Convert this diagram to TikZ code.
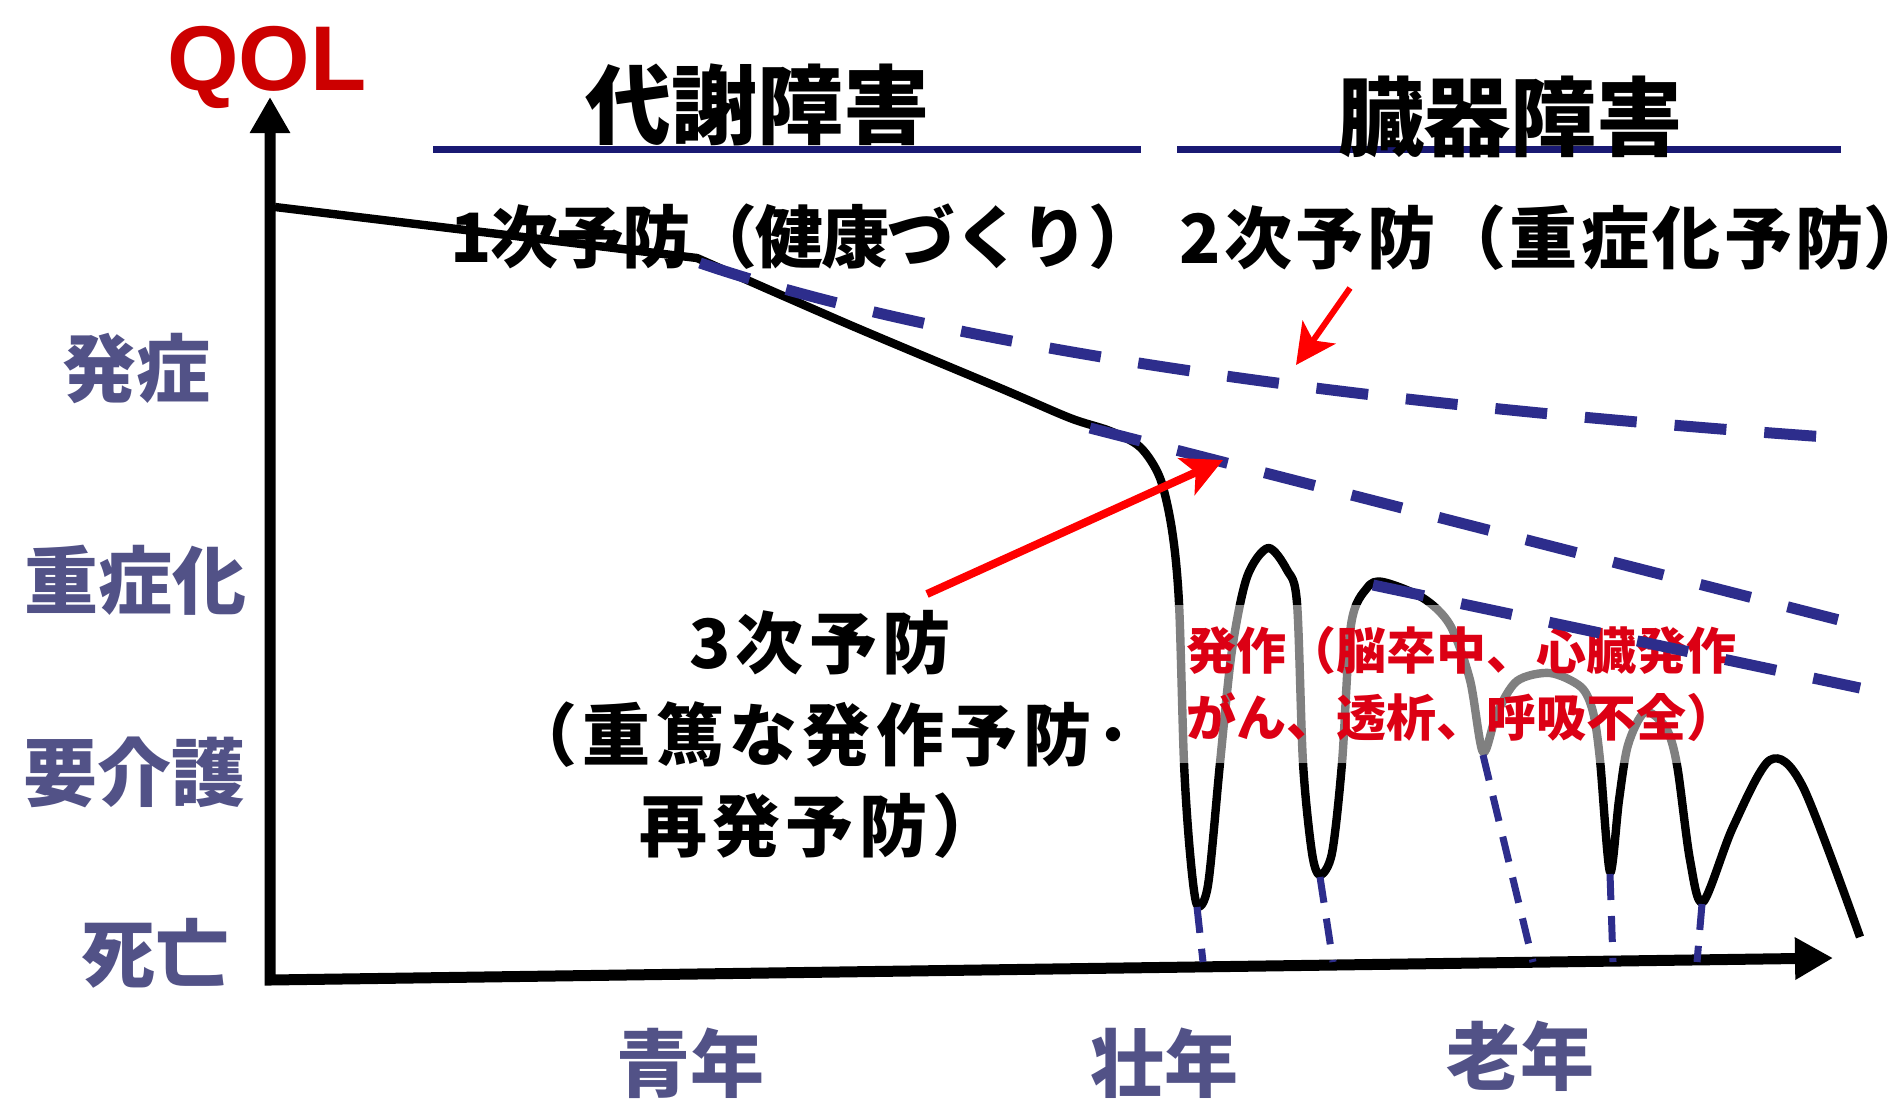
\documentclass[tikz,border=0pt]{standalone}
\usepackage{fontspec}
\setmainfont{Noto Sans CJK JP}
\newfontfamily\qolfont{Liberation Sans}
\usetikzlibrary{arrows.meta}
\definecolor{navy}{RGB}{25,25,115}
\definecolor{dashblue}{RGB}{45,45,140}
\definecolor{slate}{RGB}{82,82,135}
\definecolor{qolred}{RGB}{204,0,0}
\definecolor{arrowred}{RGB}{255,0,0}
\definecolor{textred}{RGB}{220,0,20}
\begin{document}
\begin{tikzpicture}[x=0.5pt,y=-0.5pt,
  axisline/.style={line width=5.5pt,
    {Triangle[length=18pt,width=19pt]}-{Triangle[length=19pt,width=20pt]}},
  curve/.style={line width=4.2pt, line join=round},
  bigdash/.style={draw=dashblue, line width=5.5pt, dash pattern=on 26pt off 19pt},
  vdash/.style={draw=dashblue, line width=3.5pt, dash pattern=on 13pt off 8pt},
  uline/.style={draw=navy, line width=3.5pt},
  redarrow/.style={draw=arrowred, -{Stealth[length=20pt,width=20pt,inset=5pt]}},
  lvl/.style={font=\bfseries\fontsize{37pt}{40pt}\selectfont, text=slate, inner sep=0pt},
  head/.style={font=\bfseries\fontsize{43pt}{48pt}\selectfont, inner sep=0pt},
  prev/.style={font=\bfseries\fontsize{34pt}{40pt}\selectfont, inner sep=0pt},
  redlbl/.style={font=\bfseries\fontsize{25pt}{33.5pt}\selectfont, text=textred}
]
\fill[white] (0,0) rectangle (1901,1099);
\useasboundingbox (0,0) rectangle (1901,1099);

% axes
\coordinate (ytip) at (270,97);
\coordinate (orig) at (270,980);
\coordinate (xtip) at (1833,958);
\draw[axisline] (ytip) -- (orig) -- (xtip);

\node[font=\qolfont\bfseries\fontsize{46pt}{50pt}\selectfont, text=qolred, anchor=base, inner sep=0pt] (qol) at (267,90) {QOL};

% header lines and titles
\coordinate (u1a) at (433,149); \coordinate (u1b) at (1141,149);
\coordinate (u2a) at (1177,149); \coordinate (u2b) at (1841,149);
\draw[uline] (u1a) -- (u1b);
\draw[uline] (u2a) -- (u2b);
\node[head] (metab) at (757,105) {代謝障害};
\node[head] (organ) at (1510,117) {臓器障害};

% prevention labels
\node[prev, anchor=west] (prev1) at (450,237) {\addfontfeature{LetterSpace=-2.5}1次予防（健康づくり\makebox[0.5em][l]{）}};
\node[prev, anchor=west] (prev2) at (1179,238) {\addfontfeature{LetterSpace=5}2次予防（重症化予防\makebox[0.5em][l]{）}};
\node[prev] (prev3a) at (820,643) {\addfontfeature{LetterSpace=8}3次予防};
\node[prev] (prev3b) at (820,735) {\addfontfeature{LetterSpace=8}（重篤な発作予防･};
\node[prev] (prev3c) at (820,826) {\addfontfeature{LetterSpace=8}再発予防）};

% level labels
\node[lvl] (l1) at (136,369) {発症};
\node[lvl] (l2) at (136,580) {重症化};
\node[lvl] (l3) at (135,772) {要介護};
\node[lvl] (l4) at (155,953) {死亡};
\node[lvl] (a1) at (690,1063) {青年};
\node[lvl] (a2) at (1164,1063) {壮年};
\node[lvl] (a3) at (1520,1056) {老年};

% QOL curve
\draw[curve] (275,207) -- plot[smooth, tension=0.5] coordinates {
 (697,258) (850,325) (1000,388) (1070,418) (1110,431) (1140,447) (1160,478)
 (1172,530) (1179,603) (1184,763) (1190,853) (1197,905) (1208,885) (1220,763)
 (1232,650) (1247,577) (1268,548) (1287,570) (1297,603) (1303,763) (1312,853)
 (1320,875) (1332,853) (1342,763) (1351,625) (1367,588) (1383,582) (1423,598)
 (1450,625) (1470,680) (1483,752) (1497,713) (1517,681) (1550,673) (1581,687)
 (1593,712) (1600,760) (1610,872) (1619,800) (1628,745) (1645,712) (1666,728)
 (1677,765) (1690,860) (1703,902) (1733,827) (1770,760) (1803,787) (1860,937)};

% semi-transparent label box
\node[redlbl, anchor=north west, fill=white, fill opacity=0.5, text opacity=1,
      inner xsep=5.5pt, inner ysep=0pt, minimum height=79pt, text width=278pt, align=left]
      (attack) at (1175,605) {発作（脳卒中、心臓発作\\がん、透析、呼吸不全）};

% dashed prevention lines
\draw[bigdash] (700,263) .. controls (936,343) and (1316,401) .. (1840,438);
\draw[bigdash] (1090,428) -- (1843,621);
\draw[bigdash] (1373,585) -- (1860,688);

% dashed drops to death
\draw[vdash] (1197,907) -- (1203,962);
\draw[vdash] (1320,877) -- (1333,962);
\draw[vdash] (1483,755) -- (1533,962);
\draw[vdash] (1610,874) -- (1613,962);
\draw[vdash] (1702,904) -- (1697,962);

% red arrows
\coordinate (r1s) at (1350,288); \coordinate (r1e) at (1296,365);
\coordinate (r2s) at (927,594); \coordinate (r2e) at (1223,460);
\draw[redarrow, line width=3pt] (r1s) -- (r1e);
\draw[redarrow, line width=4pt] (r2s) -- (r2e);
\end{tikzpicture}
\end{document}
